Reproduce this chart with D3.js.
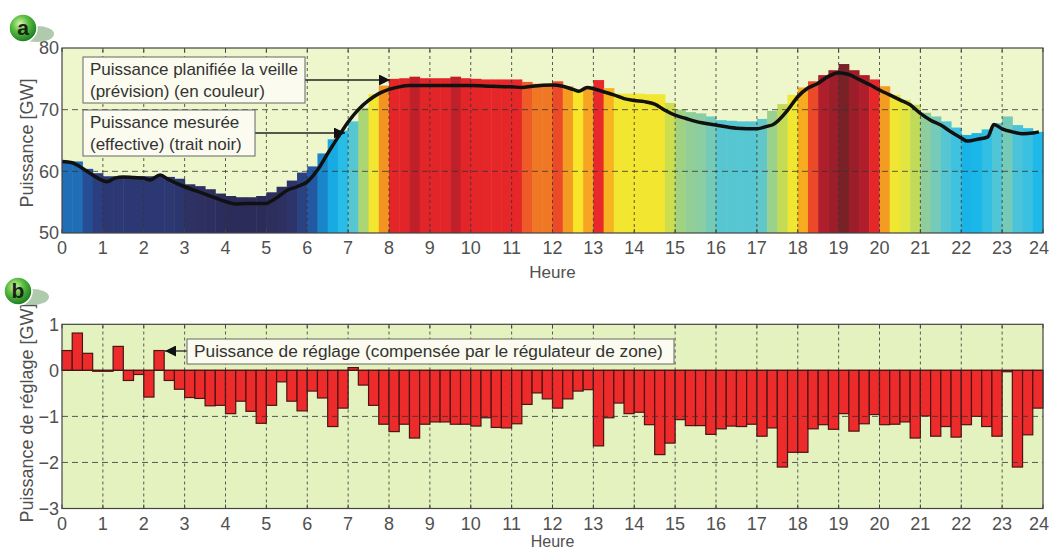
<!DOCTYPE html>
<html>
<head>
<meta charset="utf-8">
<script src="https://cdn.jsdelivr.net/npm/d3@7/dist/d3.min.js"></script>
<style>
  body { margin: 0; background: #fff; }
  text { font-family: "Liberation Sans", Arial, sans-serif; }
</style>
</head>
<body>
<div id="chart"></div>
<script>
// hours on the x axis (both panels)
var hourTicks = [0,1,2,3,4,5,6,7,8,9,10,11,12,13,14,15,16,17,18,19,20,21,22,23,24]
var topTicks = [50,60,70,80]
var bottomTicks = [-3,-2,-1,0,1]

// planned power the day before, one value per quarter hour [GW]
var planned = [
  61.6,61.6,60.4,59.7, 59.2,59.2,59.2,59.2, 59.2,59.2,59.1,58.8,
  57.9,57.6,57.1,56.4, 56.0,55.8,55.8,56.0, 56.6,57.5,58.5,59.8,
  60.8,62.9,65.2,66.6, 68.1,70.3,72.5,73.9, 75.0,75.1,75.35,75.1,
  75.1,75.1,75.35,75.1, 75.0,74.9,74.9,74.9, 74.9,74.5,74.2,74.2,
  74.6,73.8,73.2,73.7, 74.8,73.5,72.6,72.6, 72.6,72.5,72.5,71.1,
  70.0,69.6,69.4,68.9, 68.3,68.2,68.1,68.1, 68.5,69.8,70.9,72.4,
  73.6,74.6,75.6,76.4, 77.4,76.4,75.6,74.9, 73.8,72.4,71.6,70.8,
  69.5,68.9,68.1,67.1, 65.9,66.2,66.8,67.8, 68.9,67.5,67.0,66.4
]

// measured power (black line): [hour, GW]
var measured = [
  [0,61.6],[0.25,61.4],[0.5,60.5],[0.75,59.4],[1.0,58.5],[1.1,58.3],[1.3,58.9],
  [1.5,59.1],[1.75,59.0],[2.0,58.9],[2.15,58.6],[2.4,59.4],[2.6,58.7],[2.75,58.2],
  [3.0,57.5],[3.25,56.9],[3.5,56.3],[3.75,55.7],[4.0,55.1],[4.25,54.7],[4.5,54.8],
  [4.75,54.8],[5.0,54.8],[5.1,55.1],[5.25,55.7],[5.5,56.9],[5.75,57.5],[6.0,58.3],
  [6.25,60.2],[6.5,62.9],[6.75,65.5],[7.0,68.0],[7.25,70.0],[7.5,71.5],[7.75,72.6],
  [8.0,73.3],[8.25,73.7],[8.5,73.9],[9.0,73.9],[9.5,73.9],[10,73.9],[10.5,73.8],
  [11,73.7],[11.25,73.6],[11.5,73.8],[12,74.0],[12.25,73.8],[12.5,73.3],[12.65,73.0],
  [12.85,73.6],[13.0,73.4],[13.25,72.9],[13.5,72.4],[13.75,71.8],[14.0,71.5],
  [14.25,71.3],[14.5,70.9],[14.75,69.9],[15.0,69.1],[15.25,68.6],[15.5,68.1],
  [16,67.5],[16.5,67.0],[17,66.9],[17.25,67.3],[17.4,67.6],[17.75,69.9],[18,72.1],
  [18.25,73.5],[18.5,74.3],[18.75,75.4],[19.0,76.0],[19.25,75.7],[19.5,74.9],
  [19.75,74.1],[20,73.2],[20.25,72.4],[20.5,71.6],[20.75,70.8],[21,69.4],[21.25,68.3],
  [21.5,67.5],[21.75,66.4],[22.0,65.4],[22.15,64.9],[22.4,65.2],[22.65,65.6],
  [22.8,67.6],[23.0,66.9],[23.25,66.4],[23.5,66.1],[23.75,66.2],[23.9,66.4]
]

// regulating power, one value per quarter hour [GW]
var regulation = [
  0.43,0.81,0.37,-0.02, -0.02,0.52,-0.22,-0.09, -0.58,0.43,-0.22,-0.41,
  -0.59,-0.61,-0.77,-0.76, -0.94,-0.67,-0.89,-1.15, -0.76,-0.25,-0.67,-0.88,
  -0.45,-0.60,-1.22,-0.82, 0.06,-0.32,-0.76,-1.17, -1.33,-1.17,-1.47,-1.17,
  -1.12,-1.12,-1.17,-1.17, -1.21,-1.03,-1.24,-1.25, -1.16,-0.74,-0.49,-0.62,
  -0.82,-0.62,-0.45,-0.42, -1.64,-1.03,-0.71,-0.94, -0.91,-1.18,-1.83,-1.58,
  -1.07,-1.20,-1.20,-1.39, -1.27,-1.21,-1.22,-1.17, -1.43,-1.25,-2.10,-1.78,
  -1.78,-1.27,-1.18,-1.28, -0.94,-1.32,-1.16,-0.96, -1.18,-1.17,-1.12,-1.47,
  -0.99,-1.43,-1.22,-1.45, -1.18,-1.00,-1.22,-1.43, -0.03,-2.10,-1.40,-0.82
]

var svg = d3.select("#chart").append("svg")
    .attr("width", 1051)
    .attr("height", 551)

var x = d3.scaleLinear().domain([0, 24]).range([62, 1043])
var yTop = d3.scaleLinear().domain([50, 80]).range([233, 48])
var yBot = d3.scaleLinear().domain([-3, 1]).range([508.5, 324.3])

// colour map of the planned power (jet-like, dark blue -> dark red)
var colour = d3.scaleLinear()
    .domain([55,58,59.5,60.5,61.5,63,65,66.3,67.3,68.3,69.2,70.2,71,71.8,73.2,73.5,74,74.5,74.8,75.2,75.4,76.5,77.5])
    .range(["#2a2a55","#2d3163","#2c3a78","#25509a","#1f6cb4","#1a88cc","#18a8e0","#1ab8ea","#48c4dc",
            "#58c6d0","#84ccac","#a8d478","#c8dc50","#ece83a","#f8e428","#f8b420","#f28c22","#ee5a28",
            "#e8282a","#e02428","#b41e2a","#9a1e2a","#742228"])
    .clamp(true)

var step = 0.25
var grey = "#505050"

//----- panel a -----
var a = svg.append("g")

a.append("rect")
    .attr("x", x(0)).attr("y", yTop(80))
    .attr("width", x(24) - x(0)).attr("height", yTop(50) - yTop(80))
    .attr("fill", "#eef6cc")

a.selectAll("rect.plan")
    .data(planned)
  .enter().append("rect")
    .attr("class", "plan")
    .attr("x", function(d, i) { return x(i * step) })
    .attr("width", function(d, i) { return x((i + 1) * step) - x(i * step) + 0.5 })
    .attr("y", function(d) { return yTop(d) })
    .attr("height", function(d) { return yTop(50) - yTop(d) })
    .attr("fill", function(d) { return colour(d) })

function grid(g, ys, yScale, y0, y1) {
  g.selectAll("line.vg")
      .data(hourTicks.slice(1, -1))
    .enter().append("line")
      .attr("x1", function(d) { return x(d) }).attr("x2", function(d) { return x(d) })
      .attr("y1", yScale(y0)).attr("y2", yScale(y1))
      .attr("stroke", "#333").attr("stroke-width", 0.8)
      .attr("stroke-dasharray", "3,3")
  g.selectAll("line.hg")
      .data(ys)
    .enter().append("line")
      .attr("x1", x(0)).attr("x2", x(24))
      .attr("y1", function(d) { return yScale(d) }).attr("y2", function(d) { return yScale(d) })
      .attr("stroke", "#333").attr("stroke-width", 0.8)
      .attr("stroke-dasharray", "6,4")
}

grid(a, [60, 70], yTop, 50, 80)

var line = d3.line()
    .x(function(d) { return x(d[0]) })
    .y(function(d) { return yTop(d[1]) })
    .curve(d3.curveMonotoneX)

a.append("path")
    .datum(measured)
    .attr("d", line)
    .attr("fill", "none")
    .attr("stroke", "#111")
    .attr("stroke-width", 3.5)
    .attr("stroke-linejoin", "round")

function frame(g, yScale, y0, y1, yt) {
  g.append("rect")
      .attr("x", x(0)).attr("y", yScale(y1))
      .attr("width", x(24) - x(0)).attr("height", yScale(y0) - yScale(y1))
      .attr("fill", "none").attr("stroke", "#444").attr("stroke-width", 1.2)
  // small inward ticks
  g.selectAll("line.tt")
      .data(hourTicks)
    .enter().append("line")
      .attr("x1", function(d) { return x(d) }).attr("x2", function(d) { return x(d) })
      .attr("y1", yScale(y1)).attr("y2", yScale(y1) + 4)
      .attr("stroke", "#444")
  g.selectAll("line.tb")
      .data(hourTicks)
    .enter().append("line")
      .attr("x1", function(d) { return x(d) }).attr("x2", function(d) { return x(d) })
      .attr("y1", yScale(y0)).attr("y2", yScale(y0) - 4)
      .attr("stroke", "#444")
  // the last label would run past the page edge, keep it inside
  g.selectAll("text.xt")
      .data(hourTicks)
    .enter().append("text")
      .attr("x", function(d) { return Math.min(x(d), 1039) })
      .attr("y", yScale(y0) + 21)
      .attr("text-anchor", "middle")
      .attr("font-size", 18).attr("fill", grey)
      .text(function(d) { return d })
  g.selectAll("text.yt")
      .data(yt)
    .enter().append("text")
      .attr("x", 59)
      .attr("y", function(d) { return yScale(d) })
      .attr("dy", "0.36em")
      .attr("text-anchor", "end")
      .attr("font-size", 18).attr("fill", grey)
      .text(function(d) { return d < 0 ? "\u2212" + (-d) : d })
}

frame(a, yTop, 50, 80, topTicks)

a.append("text")
    .attr("x", x(12)).attr("y", 278)
    .attr("text-anchor", "middle").attr("font-size", 17).attr("fill", grey)
    .text("Heure")
a.append("text")
    .attr("transform", "translate(33,143) rotate(-90)")
    .attr("text-anchor", "middle").attr("font-size", 18).attr("fill", grey)
    .text("Puissance [GW]")

// arrow head
svg.append("defs").append("marker")
    .attr("id", "head")
    .attr("viewBox", "0 0 10 10")
    .attr("refX", 10).attr("refY", 5)
    .attr("markerWidth", 16).attr("markerHeight", 11)
    .attr("markerUnits", "userSpaceOnUse")
    .attr("orient", "auto")
  .append("path")
    .attr("d", "M0,0L10,5L0,10Z")
    .attr("fill", "#111")

function note(g, bx, by, bw, bh, lines, fs, ax1, ay, ax2) {
  g.append("line")
      .attr("x1", ax1).attr("y1", ay).attr("x2", ax2).attr("y2", ay)
      .attr("stroke", "#222").attr("stroke-width", 1.3)
      .attr("marker-end", "url(#head)")
  g.append("rect")
      .attr("x", bx).attr("y", by).attr("width", bw).attr("height", bh)
      .attr("fill", "#fbfbf0").attr("stroke", "#666").attr("stroke-width", 1)
  lines.forEach(function(t, i) {
    g.append("text")
        .attr("x", bx + 7).attr("y", by + 18 + i * 22)
        .attr("font-size", fs).attr("fill", "#333")
        .text(t)
  })
}

note(a, 83, 57, 222, 46, ["Puissance planifiée la veille", "(prévision) (en couleur)"], 17, 305, 80, 390)
note(a, 83, 110, 172, 46, ["Puissance mesurée", "(effective) (trait noir)"], 17, 255, 133, 345)

//----- panel b -----
var b = svg.append("g")

b.append("rect")
    .attr("x", x(0)).attr("y", yBot(1))
    .attr("width", x(24) - x(0)).attr("height", yBot(-3) - yBot(1))
    .attr("fill", "#e4f2bf")

b.selectAll("rect.reg")
    .data(regulation)
  .enter().append("rect")
    .attr("class", "reg")
    .attr("x", function(d, i) { return x(i * step) })
    .attr("width", function(d, i) { return x((i + 1) * step) - x(i * step) })
    .attr("y", function(d) { return yBot(Math.max(0, d)) })
    .attr("height", function(d) { return Math.abs(yBot(d) - yBot(0)) })
    .attr("fill", "#ee2b2b")
    .attr("stroke", "#4a1414")
    .attr("stroke-width", 1.2)

grid(b, [-2, -1], yBot, -3, 1)

b.append("line")
    .attr("x1", x(0)).attr("x2", x(24))
    .attr("y1", yBot(0)).attr("y2", yBot(0))
    .attr("stroke", "#4a1414").attr("stroke-width", 1.2)

frame(b, yBot, -3, 1, bottomTicks)

b.append("text")
    .attr("x", x(12)).attr("y", 547)
    .attr("text-anchor", "middle").attr("font-size", 16).attr("fill", grey)
    .text("Heure")
b.append("text")
    .attr("transform", "translate(33,413) rotate(-90)")
    .attr("text-anchor", "middle").attr("font-size", 18).attr("fill", grey)
    .text("Puissance de réglage [GW]")

note(b, 187, 339, 487, 25, ["Puissance de réglage (compensée par le régulateur de zone)"], 17.3, 187, 351, 165)

// panel badges
var grad = svg.select("defs").append("radialGradient")
    .attr("id", "ball").attr("cx", "40%").attr("cy", "35%").attr("r", "65%")
grad.append("stop").attr("offset", "0%").attr("stop-color", "#d8f5b0")
grad.append("stop").attr("offset", "45%").attr("stop-color", "#5cc040")
grad.append("stop").attr("offset", "100%").attr("stop-color", "#1c7a22")

function badge(cx, cy, letter) {
  svg.append("ellipse")
      .attr("cx", cx + 14).attr("cy", cy + 6).attr("rx", 17).attr("ry", 8)
      .attr("fill", "#94b890").attr("opacity", 0.75)
  svg.append("circle")
      .attr("cx", cx).attr("cy", cy).attr("r", 14)
      .attr("fill", "url(#ball)").attr("stroke", "#fff").attr("stroke-width", 1.5)
  svg.append("text")
      .attr("x", cx).attr("y", cy).attr("dy", "0.33em")
      .attr("text-anchor", "middle")
      .attr("font-size", 21).attr("font-weight", "bold").attr("fill", "#1a2218")
      .text(letter)
}

badge(23, 28, "a")
badge(18, 291, "b")
</script>
</body>
</html>
